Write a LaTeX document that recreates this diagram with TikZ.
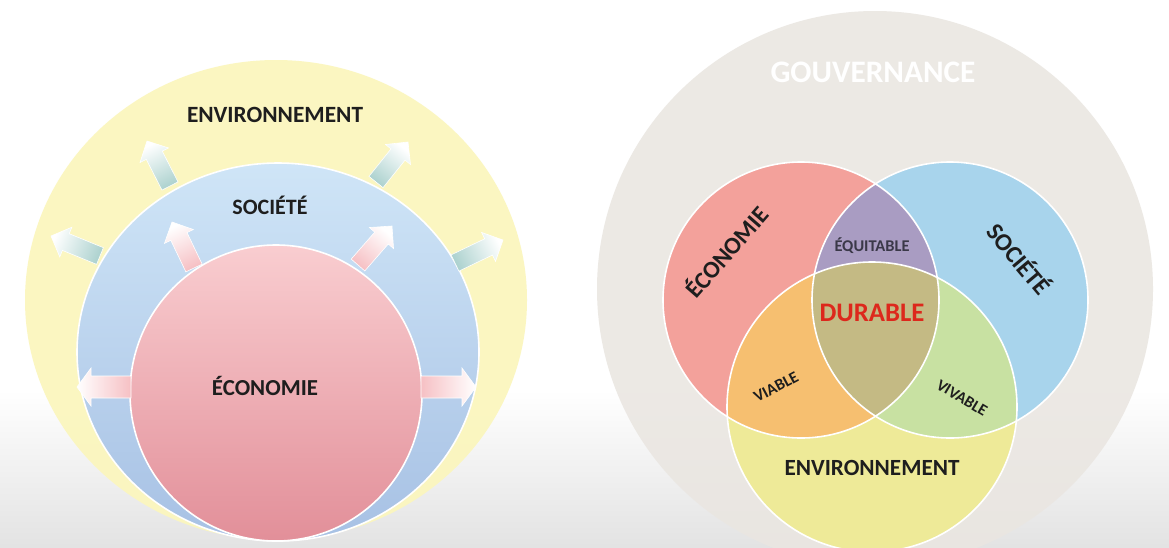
\documentclass[tikz,border=0pt]{standalone}
\usepackage{fontspec}
\setmainfont{Carlito}
\usepackage{graphicx}
\usetikzlibrary{calc,shadings}
\definecolor{envY}{HTML}{FBF6BE}
\definecolor{socT}{HTML}{CFE5F7}
\definecolor{socB}{HTML}{A7C1E4}
\definecolor{ecoT}{HTML}{F9CDD0}
\definecolor{ecoB}{HTML}{E28F99}
\definecolor{tealA}{HTML}{ADD2CF}
\definecolor{pinkA}{HTML}{F6C0C4}
\definecolor{gouv}{HTML}{EAE6E1}
\definecolor{vRed}{HTML}{F3A19B}
\definecolor{vBlue}{HTML}{A8D4EC}
\definecolor{vYel}{HTML}{EEEA98}
\definecolor{vPur}{HTML}{A99CC2}
\definecolor{vOra}{HTML}{F6BF70}
\definecolor{vGre}{HTML}{C8E1A2}
\definecolor{vOli}{HTML}{C4BA84}
\definecolor{txt}{HTML}{1E1E1E}
\definecolor{equi}{HTML}{3A3848}
\definecolor{durR}{HTML}{DD281C}
\tikzset{
  lbl/.style={inner sep=0pt, font=\bfseries, text=txt},
  ring/.style={draw=white, line width=1.6pt},
  arrowsty/.style={draw=white, line width=0.6pt},
}
% #1 base, #2 tip, #3 colour, #4 shading angle, #5 half body, #6 half head, #7 head length
\newcommand\blockarrow[7]{%
  \coordinate (hb) at ($(#2)!#7!(#1)$);
  \path[arrowsty, bottom color=#3, top color=white, shading angle=#4]
    ($(#1)!#5!90:(#2)$) -- ($(hb)!#5!-90:(#1)$) -- ($(hb)!#6!-90:(#1)$) -- (#2)
    -- ($(hb)!#6!90:(#1)$) -- ($(hb)!#5!90:(#1)$) -- ($(#1)!#5!-90:(#2)$) -- cycle;
}
\begin{document}
\begin{tikzpicture}[x=1pt, y=-1pt]
\useasboundingbox (0,0) rectangle (1169,547);
% background
\fill[white] (0,0) rectangle (1169,547);
\fill[top color=white, bottom color=black!11] (0,390) rectangle (1169,547);

% ---------------- left diagram ----------------
\coordinate (cY) at (276,300);
\coordinate (cB) at (278,352);
\coordinate (cP) at (276,393);
\fill[envY, fill opacity=0.95] (cY) ellipse [x radius=251pt, y radius=240pt];
\path[ring, top color=socT, bottom color=socB] (cB) ellipse [x radius=201pt, y radius=189pt];
\path[ring, top color=ecoT, bottom color=ecoB] (cP) ellipse [x radius=146pt, y radius=148pt];

% teal arrows (society -> environment)
\coordinate (ta1) at (170,186); \coordinate (ta1t) at (147,141);
\coordinate (ta2) at (376,182); \coordinate (ta2t) at (408,142);
\coordinate (ta3) at (100,256); \coordinate (ta3t) at (51,236);
\coordinate (ta4) at (455,263); \coordinate (ta4t) at (503,240);
\blockarrow{ta1}{ta1t}{tealA}{27}{9pt}{16pt}{16pt}
\blockarrow{ta2}{ta2t}{tealA}{-39}{9pt}{16pt}{16pt}
\blockarrow{ta3}{ta3t}{tealA}{68}{9pt}{16pt}{16pt}
\blockarrow{ta4}{ta4t}{tealA}{-64}{9pt}{16pt}{16pt}
% pink arrows (economy -> society)
\coordinate (pa1) at (194,268); \coordinate (pa1t) at (172,222);
\coordinate (pa2) at (358,265); \coordinate (pa2t) at (392,226);
\coordinate (pa3) at (131,387); \coordinate (pa3t) at (77,387);
\coordinate (pa4) at (421,387); \coordinate (pa4t) at (476,387);
\blockarrow{pa1}{pa1t}{pinkA}{26}{9pt}{16pt}{16pt}
\blockarrow{pa2}{pa2t}{pinkA}{-41}{9pt}{16pt}{16pt}
\blockarrow{pa3}{pa3t}{pinkA}{90}{11pt}{19pt}{14pt}
\blockarrow{pa4}{pa4t}{pinkA}{-90}{11pt}{19pt}{14pt}

\node[lbl] (envL) at (275,115) {\resizebox{176pt}{!}{ENVIRONNEMENT}};
\node[lbl] (socL) at (270,205) {\resizebox{75pt}{!}{SOCIÉTÉ}};
\node[lbl] (ecoL) at (265,386) {\resizebox{106pt}{!}{ÉCONOMIE}};

% ---------------- right diagram ----------------
\coordinate (cG) at (875,289);
\coordinate (ce) at (801,300);
\coordinate (cs) at (950,300);
\coordinate (cv) at (872,407);
\fill[gouv, fill opacity=0.88] (cG) circle [radius=278pt];

\fill[vRed] (ce) circle [radius=138pt];
\fill[vBlue] (cs) circle [radius=138pt];
\fill[vYel] (cv) circle [radius=145pt];
\begin{scope}
  \clip (ce) circle [radius=138pt];
  \fill[vPur] (cs) circle [radius=138pt];
  \fill[vOra] (cv) circle [radius=145pt];
\end{scope}
\begin{scope}
  \clip (cs) circle [radius=138pt];
  \fill[vGre] (cv) circle [radius=145pt];
\end{scope}
\begin{scope}
  \clip (ce) circle [radius=138pt];
  \clip (cs) circle [radius=138pt];
  \fill[vOli] (cv) circle [radius=145pt];
\end{scope}
\draw[ring] (ce) circle [radius=138pt];
\draw[ring] (cs) circle [radius=138pt];
\draw[ring] (cv) circle [radius=145pt];

\node[lbl, text=white] (gouvT) at (873,72) {\resizebox{205pt}{!}{GOUVERNANCE}};
\node[lbl, rotate=49] (ecoR) at (726,251) {\resizebox{112pt}{!}{ÉCONOMIE}};
\node[lbl, rotate=-50] (socR) at (1020,258) {\resizebox{84pt}{!}{SOCIÉTÉ}};
\node[lbl, text=equi] (equiT) at (872,246) {\resizebox{75pt}{!}{ÉQUITABLE}};
\node[lbl, text=durR] (durT) at (872,313) {\resizebox{105pt}{!}{DURABLE}};
\node[lbl, rotate=28] (viaT) at (776,387) {\resizebox{48pt}{!}{VIABLE}};
\node[lbl, rotate=-31] (vivT) at (962,398) {\resizebox{56pt}{!}{VIVABLE}};
\node[lbl] (envR) at (872,468) {\resizebox{175pt}{!}{ENVIRONNEMENT}};
\end{tikzpicture}
\end{document}
